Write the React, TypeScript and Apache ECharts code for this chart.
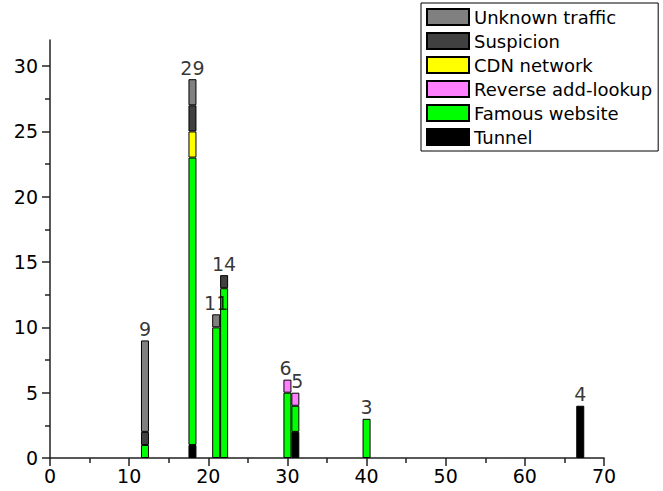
import React, { useEffect, useRef } from 'react';
import * as echarts from 'echarts';

// ---- data ----
const xValues = [12, 18, 21, 22, 30, 31, 40, 67];
const tunnel = [0, 1, 0, 0, 0, 2, 0, 4];
const famousWebsite = [1, 22, 10, 13, 5, 2, 3, 0];
const reverseLookup = [0, 0, 0, 0, 1, 1, 0, 0];
const cdnNetwork = [0, 2, 0, 0, 0, 0, 0, 0];
const suspicion = [1, 2, 0, 1, 0, 0, 0, 0];
const unknownTraffic = [7, 2, 1, 0, 0, 0, 0, 0];

const xMin = 0;
const xMax = 70;
const yMajorTicks = [0, 5, 10, 15, 20, 25, 30];
const yMinorTicks = [2.5, 7.5, 12.5, 17.5, 22.5, 27.5];

const seriesDefs = [
  { name: 'Tunnel', data: tunnel, color: '#000000' },
  { name: 'Famous website', data: famousWebsite, color: '#00ff00' },
  { name: 'Reverse add-lookup', data: reverseLookup, color: '#ff80ff' },
  { name: 'CDN network', data: cdnNetwork, color: '#ffff00' },
  { name: 'Suspicion', data: suspicion, color: '#404040' },
  { name: 'Unknown traffic', data: unknownTraffic, color: '#808080' },
];

const legendOrder = [
  'Unknown traffic',
  'Suspicion',
  'CDN network',
  'Reverse add-lookup',
  'Famous website',
  'Tunnel',
];

const FONT = 'DejaVu Sans';

export default function App() {
  const ref = useRef<HTMLDivElement>(null);
  useEffect(() => {
    document.body.style.margin = '0';
    if (!ref.current) return;
    const chart = echarts.init(ref.current, null, { renderer: 'svg' });

    // one category per integer position 0..70 (hidden axis, used for stacking)
    const cats: string[] = [];
    for (let v = xMin; v <= xMax; v++) cats.push(String(v));

    // small horizontal nudges so adjacent total labels do not collide
    const labelNudge: Record<number, number> = { 30: -2, 31: 2 };
    const totals = xValues.map((x, i) => ({
      value: [x, seriesDefs.reduce((s, d) => s + d.data[i], 0)],
      label: { offset: [labelNudge[x] || 0, 0] },
    }));

    const barSeries = seriesDefs.map((d) => {
      const full: any[] = cats.map(() => '-');
      xValues.forEach((x, i) => {
        if (d.data[i] !== 0) full[x - xMin] = d.data[i];
      });
      return {
        name: d.name,
        type: 'bar',
        stack: 'total',
        xAxisIndex: 0,
        yAxisIndex: 0,
        barWidth: 8,
        data: full,
        itemStyle: { color: d.color, borderColor: '#000', borderWidth: 1 },
      };
    });

    const axisColor = '#222';
    const option: any = {
      animation: false,
      backgroundColor: '#fff',
      textStyle: { fontFamily: FONT },
      grid: { left: 50, right: 59, top: 40, bottom: 33, containLabel: false },
      legend: {
        data: legendOrder,
        orient: 'vertical',
        left: 421,
        top: 3,
        icon: 'rect',
        itemWidth: 42,
        itemHeight: 16,
        itemGap: 6,
        padding: [5, 6, 5, 5],
        borderColor: '#000',
        borderWidth: 1,
        backgroundColor: '#fff',
        textStyle: { fontFamily: FONT, fontSize: 18, color: '#000', lineHeight: 18 },
      },
      xAxis: [
        {
          type: 'category',
          data: cats,
          boundaryGap: false,
          show: false,
          position: 'bottom',
        },
        {
          type: 'value',
          position: 'bottom',
          min: xMin,
          max: xMax,
          interval: 10,
          splitLine: { show: false },
          axisLine: { show: true, onZero: false, lineStyle: { color: axisColor, width: 1.5 } },
          axisTick: { show: true, inside: false, length: 8, lineStyle: { color: axisColor, width: 1.5 } },
          minorTick: { show: true, splitNumber: 2, length: 5, lineStyle: { color: axisColor, width: 1.5 } },
          axisLabel: { fontFamily: FONT, fontSize: 19, color: '#000', margin: 8 },
        },
      ],
      yAxis: [
        {
          type: 'value',
          position: 'left',
          min: 0,
          max: 32,
          interval: 5,
          splitLine: { show: false },
          axisLine: { show: true, onZero: false, lineStyle: { color: axisColor, width: 1.5 } },
          axisTick: {
            show: true,
            length: 8,
            customValues: yMajorTicks,
            lineStyle: { color: axisColor, width: 1.5 },
          },
          axisLabel: {
            fontFamily: FONT,
            fontSize: 19,
            color: '#000',
            margin: 12,
            customValues: yMajorTicks,
          },
        },
        {
          type: 'value',
          position: 'left',
          offset: 0,
          min: 0,
          max: 32,
          interval: 5,
          splitLine: { show: false },
          axisLine: { show: false },
          axisTick: {
            show: true,
            length: 5,
            customValues: yMinorTicks,
            lineStyle: { color: axisColor, width: 1.5 },
          },
          axisLabel: { show: false },
        },
      ],
      series: [
        ...barSeries,
        {
          name: 'totals',
          type: 'scatter',
          xAxisIndex: 1,
          yAxisIndex: 0,
          symbolSize: 0,
          data: totals,
          silent: true,
          label: {
            show: true,
            position: 'top',
            distance: 2,
            fontFamily: FONT,
            fontSize: 19,
            color: '#000',
            formatter: (p: any) => String(p.value[1]),
          },
          z: 10,
        },
      ],
    };
    chart.setOption(option);
    return () => chart.dispose();
  }, []);
  return <div ref={ref} style={{ width: 663, height: 491 }} />;
}
